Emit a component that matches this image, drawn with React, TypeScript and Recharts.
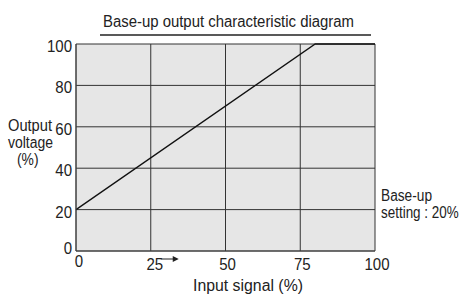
import React from 'react';
import { LineChart, Line, XAxis, YAxis, CartesianGrid, Customized } from 'recharts';

const inputSignal = [0, 80, 100];
const outputVoltage = [20, 100, 100];
const xTicks = [0, 25, 50, 75, 100];
const yTicks = [0, 20, 40, 60, 80, 100];

const data = inputSignal.map((x, i) => ({ x, y: outputVoltage[i] }));

const FONT = '"Liberation Sans", Arial, sans-serif';
const DIGIT_W = 8.35;

const XTick = (props: any) => {
  const { x, y, payload } = props;
  const v = payload.value;
  const s = String(v);
  const dx = v === 0 ? 3 : v === 25 ? 4 : 2;
  const dy = v === 0 ? -3 : 0;
  return (
    <g>
      <text
        x={x + dx}
        y={y + 11 + dy}
        textAnchor="middle"
        fontSize={16}
        fill="#222"
        fontFamily={FONT}
        textLength={s.length * DIGIT_W}
        lengthAdjust="spacingAndGlyphs"
      >
        {s}
      </text>
      {v === 25 && (
        <g>
          <line x1={x + 10} y1={y} x2={x + 23} y2={y} stroke="#222" strokeWidth={1} />
          <polygon points={`${x + 22},${y - 3} ${x + 28},${y} ${x + 22},${y + 3}`} fill="#222" />
        </g>
      )}
    </g>
  );
};

const YTick = (props: any) => {
  const { x, y, payload } = props;
  const v = payload.value;
  const s = String(v);
  const dy = v === 0 ? -5.5 : 0;
  return (
    <text
      x={x + 4}
      y={y + dy + 8}
      textAnchor="end"
      fontSize={16}
      fill="#222"
      fontFamily={FONT}
      textLength={s.length * DIGIT_W}
      lengthAdjust="spacingAndGlyphs"
    >
      {s}
    </text>
  );
};

const Extras = () => (
  <g fontFamily={FONT} fill="#222" fontSize={16}>
    <text x={103} y={27} textLength={251} lengthAdjust="spacingAndGlyphs">Base-up output characteristic diagram</text>
    <line x1={100} y1={35} x2={371} y2={35} stroke="#222" strokeWidth={1.4} />
    <text x={8} y={131} textLength={44} lengthAdjust="spacingAndGlyphs">Output</text>
    <text x={8} y={148} textLength={45} lengthAdjust="spacingAndGlyphs">voltage</text>
    <text x={17} y={165} textLength={21.5} lengthAdjust="spacingAndGlyphs">(%)</text>
    <text x={381} y={201} textLength={51} lengthAdjust="spacingAndGlyphs">Base-up</text>
    <text transform="translate(381,218) scale(0.84,1)" x={0} y={0}>setting : 20%</text>
    <text x={193} y={291} textLength={110} lengthAdjust="spacingAndGlyphs">Input signal (%)</text>
  </g>
);

export default function App() {
  return (
    <div style={{ position: 'absolute', left: 0, top: 0 }}>
      <LineChart width={463} height={294} data={data} margin={{ top: 44, right: 88, left: 36, bottom: 13 }}>
        <CartesianGrid fill="#e6e6e6" stroke="#333" strokeWidth={1} />
        <XAxis
          dataKey="x"
          type="number"
          domain={[0, 100]}
          ticks={xTicks}
          height={30}
          tickLine={false}
          axisLine={{ stroke: '#444' }}
          tick={<XTick />}
          interval={0}
        />
        <YAxis
          type="number"
          domain={[0, 100]}
          ticks={yTicks}
          width={40}
          tickLine={false}
          axisLine={{ stroke: '#444' }}
          tick={<YTick />}
          interval={0}
        />
        <Line dataKey="y" type="linear" stroke="#111" strokeWidth={1.3} dot={false} isAnimationActive={false} />
        <Customized component={Extras} />
      </LineChart>
    </div>
  );
}
